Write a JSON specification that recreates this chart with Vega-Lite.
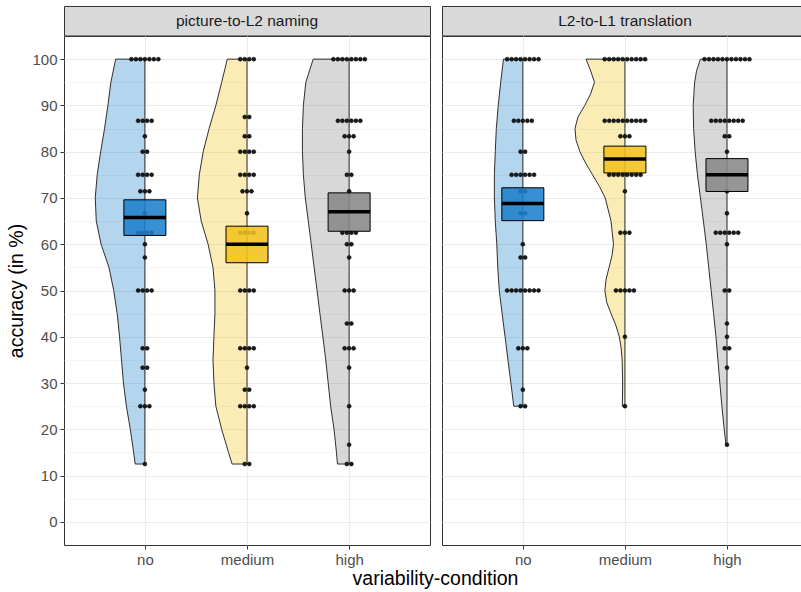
{
  "$schema": "https://vega.github.io/schema/vega-lite/v6.json",
  "padding": {"left": 6, "top": 5, "right": 0, "bottom": 3},
  "title": {"text": "variability-condition", "orient": "bottom", "anchor": "middle", "fontSize": 19.5, "fontWeight": "normal", "font": "Liberation Sans", "color": "#000000", "offset": 2, "dx": 31},
  "datasets": {
    "strips": [
      {"task": "N", "label": "picture-to-L2 naming"},
      {"task": "T", "label": "L2-to-L1 translation"}
    ],
    "boxes": [
      {"task": "N", "cond": "no", "q1": 61.9, "med": 65.8, "q3": 69.6},
      {"task": "N", "cond": "medium", "q1": 56.0, "med": 60.0, "q3": 63.9},
      {"task": "N", "cond": "high", "q1": 62.8, "med": 67.0, "q3": 71.1},
      {"task": "T", "cond": "no", "q1": 65.1, "med": 68.8, "q3": 72.2},
      {"task": "T", "cond": "medium", "q1": 75.4, "med": 78.4, "q3": 81.2},
      {"task": "T", "cond": "high", "q1": 71.4, "med": 75.0, "q3": 78.5}
    ],
    "violins": [
      {"task": "N", "cond": "no", "acc": 12.5, "w": 0.095},
      {"task": "N", "cond": "no", "acc": 15, "w": 0.110},
      {"task": "N", "cond": "no", "acc": 20, "w": 0.143},
      {"task": "N", "cond": "no", "acc": 25, "w": 0.181},
      {"task": "N", "cond": "no", "acc": 30, "w": 0.210},
      {"task": "N", "cond": "no", "acc": 35, "w": 0.229},
      {"task": "N", "cond": "no", "acc": 40, "w": 0.248},
      {"task": "N", "cond": "no", "acc": 45, "w": 0.271},
      {"task": "N", "cond": "no", "acc": 50, "w": 0.305},
      {"task": "N", "cond": "no", "acc": 55, "w": 0.352},
      {"task": "N", "cond": "no", "acc": 60, "w": 0.429},
      {"task": "N", "cond": "no", "acc": 65, "w": 0.476},
      {"task": "N", "cond": "no", "acc": 70, "w": 0.486},
      {"task": "N", "cond": "no", "acc": 75, "w": 0.467},
      {"task": "N", "cond": "no", "acc": 80, "w": 0.433},
      {"task": "N", "cond": "no", "acc": 85, "w": 0.395},
      {"task": "N", "cond": "no", "acc": 90, "w": 0.362},
      {"task": "N", "cond": "no", "acc": 95, "w": 0.333},
      {"task": "N", "cond": "no", "acc": 100, "w": 0.286},
      {"task": "N", "cond": "medium", "acc": 12.5, "w": 0.146},
      {"task": "N", "cond": "medium", "acc": 15, "w": 0.181},
      {"task": "N", "cond": "medium", "acc": 20, "w": 0.248},
      {"task": "N", "cond": "medium", "acc": 25, "w": 0.305},
      {"task": "N", "cond": "medium", "acc": 30, "w": 0.324},
      {"task": "N", "cond": "medium", "acc": 35, "w": 0.333},
      {"task": "N", "cond": "medium", "acc": 40, "w": 0.324},
      {"task": "N", "cond": "medium", "acc": 45, "w": 0.314},
      {"task": "N", "cond": "medium", "acc": 50, "w": 0.314},
      {"task": "N", "cond": "medium", "acc": 55, "w": 0.333},
      {"task": "N", "cond": "medium", "acc": 60, "w": 0.381},
      {"task": "N", "cond": "medium", "acc": 65, "w": 0.448},
      {"task": "N", "cond": "medium", "acc": 70, "w": 0.486},
      {"task": "N", "cond": "medium", "acc": 75, "w": 0.467},
      {"task": "N", "cond": "medium", "acc": 80, "w": 0.429},
      {"task": "N", "cond": "medium", "acc": 85, "w": 0.371},
      {"task": "N", "cond": "medium", "acc": 90, "w": 0.305},
      {"task": "N", "cond": "medium", "acc": 95, "w": 0.248},
      {"task": "N", "cond": "medium", "acc": 100, "w": 0.193},
      {"task": "N", "cond": "high", "acc": 12.5, "w": 0.114},
      {"task": "N", "cond": "high", "acc": 15, "w": 0.124},
      {"task": "N", "cond": "high", "acc": 20, "w": 0.148},
      {"task": "N", "cond": "high", "acc": 25, "w": 0.181},
      {"task": "N", "cond": "high", "acc": 30, "w": 0.205},
      {"task": "N", "cond": "high", "acc": 35, "w": 0.229},
      {"task": "N", "cond": "high", "acc": 40, "w": 0.257},
      {"task": "N", "cond": "high", "acc": 45, "w": 0.286},
      {"task": "N", "cond": "high", "acc": 50, "w": 0.314},
      {"task": "N", "cond": "high", "acc": 55, "w": 0.343},
      {"task": "N", "cond": "high", "acc": 60, "w": 0.371},
      {"task": "N", "cond": "high", "acc": 65, "w": 0.400},
      {"task": "N", "cond": "high", "acc": 70, "w": 0.429},
      {"task": "N", "cond": "high", "acc": 75, "w": 0.448},
      {"task": "N", "cond": "high", "acc": 80, "w": 0.457},
      {"task": "N", "cond": "high", "acc": 85, "w": 0.457},
      {"task": "N", "cond": "high", "acc": 90, "w": 0.448},
      {"task": "N", "cond": "high", "acc": 95, "w": 0.424},
      {"task": "N", "cond": "high", "acc": 100, "w": 0.352},
      {"task": "T", "cond": "no", "acc": 25, "w": 0.089},
      {"task": "T", "cond": "no", "acc": 30, "w": 0.117},
      {"task": "T", "cond": "no", "acc": 35, "w": 0.146},
      {"task": "T", "cond": "no", "acc": 40, "w": 0.174},
      {"task": "T", "cond": "no", "acc": 45, "w": 0.203},
      {"task": "T", "cond": "no", "acc": 50, "w": 0.231},
      {"task": "T", "cond": "no", "acc": 55, "w": 0.246},
      {"task": "T", "cond": "no", "acc": 60, "w": 0.255},
      {"task": "T", "cond": "no", "acc": 65, "w": 0.270},
      {"task": "T", "cond": "no", "acc": 70, "w": 0.279},
      {"task": "T", "cond": "no", "acc": 75, "w": 0.279},
      {"task": "T", "cond": "no", "acc": 80, "w": 0.270},
      {"task": "T", "cond": "no", "acc": 85, "w": 0.260},
      {"task": "T", "cond": "no", "acc": 90, "w": 0.241},
      {"task": "T", "cond": "no", "acc": 95, "w": 0.217},
      {"task": "T", "cond": "no", "acc": 100, "w": 0.190},
      {"task": "T", "cond": "medium", "acc": 25, "w": 0.025},
      {"task": "T", "cond": "medium", "acc": 30, "w": 0.022},
      {"task": "T", "cond": "medium", "acc": 35, "w": 0.027},
      {"task": "T", "cond": "medium", "acc": 37.5, "w": 0.036},
      {"task": "T", "cond": "medium", "acc": 40, "w": 0.055},
      {"task": "T", "cond": "medium", "acc": 42.5, "w": 0.089},
      {"task": "T", "cond": "medium", "acc": 45, "w": 0.136},
      {"task": "T", "cond": "medium", "acc": 47.5, "w": 0.179},
      {"task": "T", "cond": "medium", "acc": 50, "w": 0.196},
      {"task": "T", "cond": "medium", "acc": 52.5, "w": 0.184},
      {"task": "T", "cond": "medium", "acc": 55, "w": 0.155},
      {"task": "T", "cond": "medium", "acc": 57.5, "w": 0.127},
      {"task": "T", "cond": "medium", "acc": 60, "w": 0.112},
      {"task": "T", "cond": "medium", "acc": 65, "w": 0.136},
      {"task": "T", "cond": "medium", "acc": 70, "w": 0.193},
      {"task": "T", "cond": "medium", "acc": 72.5, "w": 0.250},
      {"task": "T", "cond": "medium", "acc": 75, "w": 0.317},
      {"task": "T", "cond": "medium", "acc": 77.5, "w": 0.384},
      {"task": "T", "cond": "medium", "acc": 80, "w": 0.441},
      {"task": "T", "cond": "medium", "acc": 82.5, "w": 0.479},
      {"task": "T", "cond": "medium", "acc": 85, "w": 0.489},
      {"task": "T", "cond": "medium", "acc": 87.5, "w": 0.460},
      {"task": "T", "cond": "medium", "acc": 90, "w": 0.393},
      {"task": "T", "cond": "medium", "acc": 92.5, "w": 0.336},
      {"task": "T", "cond": "medium", "acc": 95, "w": 0.298},
      {"task": "T", "cond": "medium", "acc": 97.5, "w": 0.336},
      {"task": "T", "cond": "medium", "acc": 100, "w": 0.381},
      {"task": "T", "cond": "high", "acc": 16.67, "w": 0.010},
      {"task": "T", "cond": "high", "acc": 20, "w": 0.027},
      {"task": "T", "cond": "high", "acc": 25, "w": 0.050},
      {"task": "T", "cond": "high", "acc": 30, "w": 0.070},
      {"task": "T", "cond": "high", "acc": 35, "w": 0.089},
      {"task": "T", "cond": "high", "acc": 40, "w": 0.108},
      {"task": "T", "cond": "high", "acc": 45, "w": 0.131},
      {"task": "T", "cond": "high", "acc": 50, "w": 0.155},
      {"task": "T", "cond": "high", "acc": 55, "w": 0.179},
      {"task": "T", "cond": "high", "acc": 60, "w": 0.203},
      {"task": "T", "cond": "high", "acc": 65, "w": 0.231},
      {"task": "T", "cond": "high", "acc": 70, "w": 0.260},
      {"task": "T", "cond": "high", "acc": 75, "w": 0.289},
      {"task": "T", "cond": "high", "acc": 80, "w": 0.312},
      {"task": "T", "cond": "high", "acc": 85, "w": 0.327},
      {"task": "T", "cond": "high", "acc": 90, "w": 0.331},
      {"task": "T", "cond": "high", "acc": 95, "w": 0.317},
      {"task": "T", "cond": "high", "acc": 97.5, "w": 0.298},
      {"task": "T", "cond": "high", "acc": 100, "w": 0.260}
    ],
    "dots": [
      {"task":"N","cond":"no","acc":100},{"task":"N","cond":"no","acc":100},{"task":"N","cond":"no","acc":100},{"task":"N","cond":"no","acc":100},{"task":"N","cond":"no","acc":100},{"task":"N","cond":"no","acc":100},{"task":"N","cond":"no","acc":100},
      {"task":"N","cond":"no","acc":86.67},{"task":"N","cond":"no","acc":86.67},{"task":"N","cond":"no","acc":86.67},{"task":"N","cond":"no","acc":86.67},
      {"task":"N","cond":"no","acc":83.33},
      {"task":"N","cond":"no","acc":80},{"task":"N","cond":"no","acc":80},
      {"task":"N","cond":"no","acc":75},{"task":"N","cond":"no","acc":75},{"task":"N","cond":"no","acc":75},{"task":"N","cond":"no","acc":75},
      {"task":"N","cond":"no","acc":71.43},{"task":"N","cond":"no","acc":71.43},{"task":"N","cond":"no","acc":71.43},
      {"task":"N","cond":"no","acc":66.67},
      {"task":"N","cond":"no","acc":62.5},{"task":"N","cond":"no","acc":62.5},{"task":"N","cond":"no","acc":62.5},{"task":"N","cond":"no","acc":62.5},
      {"task":"N","cond":"no","acc":60},
      {"task":"N","cond":"no","acc":57.14},
      {"task":"N","cond":"no","acc":50},{"task":"N","cond":"no","acc":50},{"task":"N","cond":"no","acc":50},{"task":"N","cond":"no","acc":50},
      {"task":"N","cond":"no","acc":37.5},{"task":"N","cond":"no","acc":37.5},
      {"task":"N","cond":"no","acc":33.33},{"task":"N","cond":"no","acc":33.33},
      {"task":"N","cond":"no","acc":28.57},
      {"task":"N","cond":"no","acc":25},{"task":"N","cond":"no","acc":25},{"task":"N","cond":"no","acc":25},
      {"task":"N","cond":"no","acc":12.5},
      {"task":"N","cond":"medium","acc":100},{"task":"N","cond":"medium","acc":100},{"task":"N","cond":"medium","acc":100},{"task":"N","cond":"medium","acc":100},
      {"task":"N","cond":"medium","acc":87.5},{"task":"N","cond":"medium","acc":87.5},
      {"task":"N","cond":"medium","acc":83.33},{"task":"N","cond":"medium","acc":83.33},
      {"task":"N","cond":"medium","acc":80},{"task":"N","cond":"medium","acc":80},{"task":"N","cond":"medium","acc":80},{"task":"N","cond":"medium","acc":80},
      {"task":"N","cond":"medium","acc":75},{"task":"N","cond":"medium","acc":75},{"task":"N","cond":"medium","acc":75},{"task":"N","cond":"medium","acc":75},
      {"task":"N","cond":"medium","acc":71.43},{"task":"N","cond":"medium","acc":71.43},{"task":"N","cond":"medium","acc":71.43},
      {"task":"N","cond":"medium","acc":66.67},
      {"task":"N","cond":"medium","acc":62.5},{"task":"N","cond":"medium","acc":62.5},{"task":"N","cond":"medium","acc":62.5},{"task":"N","cond":"medium","acc":62.5},
      {"task":"N","cond":"medium","acc":50},{"task":"N","cond":"medium","acc":50},{"task":"N","cond":"medium","acc":50},{"task":"N","cond":"medium","acc":50},
      {"task":"N","cond":"medium","acc":37.5},{"task":"N","cond":"medium","acc":37.5},{"task":"N","cond":"medium","acc":37.5},{"task":"N","cond":"medium","acc":37.5},
      {"task":"N","cond":"medium","acc":33.33},
      {"task":"N","cond":"medium","acc":28.57},{"task":"N","cond":"medium","acc":28.57},
      {"task":"N","cond":"medium","acc":25},{"task":"N","cond":"medium","acc":25},{"task":"N","cond":"medium","acc":25},{"task":"N","cond":"medium","acc":25},
      {"task":"N","cond":"medium","acc":12.5},{"task":"N","cond":"medium","acc":12.5},
      {"task":"N","cond":"high","acc":100},{"task":"N","cond":"high","acc":100},{"task":"N","cond":"high","acc":100},{"task":"N","cond":"high","acc":100},{"task":"N","cond":"high","acc":100},{"task":"N","cond":"high","acc":100},{"task":"N","cond":"high","acc":100},{"task":"N","cond":"high","acc":100},
      {"task":"N","cond":"high","acc":86.67},{"task":"N","cond":"high","acc":86.67},{"task":"N","cond":"high","acc":86.67},{"task":"N","cond":"high","acc":86.67},{"task":"N","cond":"high","acc":86.67},{"task":"N","cond":"high","acc":86.67},
      {"task":"N","cond":"high","acc":83.33},{"task":"N","cond":"high","acc":83.33},{"task":"N","cond":"high","acc":83.33},
      {"task":"N","cond":"high","acc":80},
      {"task":"N","cond":"high","acc":75},{"task":"N","cond":"high","acc":75},
      {"task":"N","cond":"high","acc":71.43},
      {"task":"N","cond":"high","acc":62.5},{"task":"N","cond":"high","acc":62.5},{"task":"N","cond":"high","acc":62.5},{"task":"N","cond":"high","acc":62.5},
      {"task":"N","cond":"high","acc":60},{"task":"N","cond":"high","acc":60},
      {"task":"N","cond":"high","acc":57.14},
      {"task":"N","cond":"high","acc":50},{"task":"N","cond":"high","acc":50},{"task":"N","cond":"high","acc":50},
      {"task":"N","cond":"high","acc":42.86},{"task":"N","cond":"high","acc":42.86},
      {"task":"N","cond":"high","acc":37.5},{"task":"N","cond":"high","acc":37.5},{"task":"N","cond":"high","acc":37.5},
      {"task":"N","cond":"high","acc":33.33},
      {"task":"N","cond":"high","acc":25},
      {"task":"N","cond":"high","acc":16.67},
      {"task":"N","cond":"high","acc":12.5},{"task":"N","cond":"high","acc":12.5},
      {"task":"T","cond":"no","acc":100},{"task":"T","cond":"no","acc":100},{"task":"T","cond":"no","acc":100},{"task":"T","cond":"no","acc":100},{"task":"T","cond":"no","acc":100},{"task":"T","cond":"no","acc":100},{"task":"T","cond":"no","acc":100},{"task":"T","cond":"no","acc":100},
      {"task":"T","cond":"no","acc":86.67},{"task":"T","cond":"no","acc":86.67},{"task":"T","cond":"no","acc":86.67},{"task":"T","cond":"no","acc":86.67},{"task":"T","cond":"no","acc":86.67},
      {"task":"T","cond":"no","acc":80},{"task":"T","cond":"no","acc":80},
      {"task":"T","cond":"no","acc":75},{"task":"T","cond":"no","acc":75},{"task":"T","cond":"no","acc":75},{"task":"T","cond":"no","acc":75},{"task":"T","cond":"no","acc":75},{"task":"T","cond":"no","acc":75},
      {"task":"T","cond":"no","acc":71.43},{"task":"T","cond":"no","acc":71.43},
      {"task":"T","cond":"no","acc":66.67},{"task":"T","cond":"no","acc":66.67},
      {"task":"T","cond":"no","acc":60},
      {"task":"T","cond":"no","acc":57.14},{"task":"T","cond":"no","acc":57.14},
      {"task":"T","cond":"no","acc":50},{"task":"T","cond":"no","acc":50},{"task":"T","cond":"no","acc":50},{"task":"T","cond":"no","acc":50},{"task":"T","cond":"no","acc":50},{"task":"T","cond":"no","acc":50},{"task":"T","cond":"no","acc":50},{"task":"T","cond":"no","acc":50},
      {"task":"T","cond":"no","acc":37.5},{"task":"T","cond":"no","acc":37.5},{"task":"T","cond":"no","acc":37.5},
      {"task":"T","cond":"no","acc":28.57},
      {"task":"T","cond":"no","acc":25},{"task":"T","cond":"no","acc":25},
      {"task":"T","cond":"medium","acc":100},{"task":"T","cond":"medium","acc":100},{"task":"T","cond":"medium","acc":100},{"task":"T","cond":"medium","acc":100},{"task":"T","cond":"medium","acc":100},{"task":"T","cond":"medium","acc":100},{"task":"T","cond":"medium","acc":100},{"task":"T","cond":"medium","acc":100},{"task":"T","cond":"medium","acc":100},{"task":"T","cond":"medium","acc":100},
      {"task":"T","cond":"medium","acc":86.67},{"task":"T","cond":"medium","acc":86.67},{"task":"T","cond":"medium","acc":86.67},{"task":"T","cond":"medium","acc":86.67},{"task":"T","cond":"medium","acc":86.67},{"task":"T","cond":"medium","acc":86.67},{"task":"T","cond":"medium","acc":86.67},{"task":"T","cond":"medium","acc":86.67},{"task":"T","cond":"medium","acc":86.67},{"task":"T","cond":"medium","acc":86.67},
      {"task":"T","cond":"medium","acc":83.33},{"task":"T","cond":"medium","acc":83.33},{"task":"T","cond":"medium","acc":83.33},
      {"task":"T","cond":"medium","acc":75},{"task":"T","cond":"medium","acc":75},{"task":"T","cond":"medium","acc":75},{"task":"T","cond":"medium","acc":75},{"task":"T","cond":"medium","acc":75},{"task":"T","cond":"medium","acc":75},{"task":"T","cond":"medium","acc":75},{"task":"T","cond":"medium","acc":75},
      {"task":"T","cond":"medium","acc":71.43},
      {"task":"T","cond":"medium","acc":62.5},{"task":"T","cond":"medium","acc":62.5},{"task":"T","cond":"medium","acc":62.5},
      {"task":"T","cond":"medium","acc":50},{"task":"T","cond":"medium","acc":50},{"task":"T","cond":"medium","acc":50},{"task":"T","cond":"medium","acc":50},{"task":"T","cond":"medium","acc":50},
      {"task":"T","cond":"medium","acc":40},
      {"task":"T","cond":"medium","acc":25},
      {"task":"T","cond":"high","acc":100},{"task":"T","cond":"high","acc":100},{"task":"T","cond":"high","acc":100},{"task":"T","cond":"high","acc":100},{"task":"T","cond":"high","acc":100},{"task":"T","cond":"high","acc":100},{"task":"T","cond":"high","acc":100},{"task":"T","cond":"high","acc":100},{"task":"T","cond":"high","acc":100},{"task":"T","cond":"high","acc":100},{"task":"T","cond":"high","acc":100},
      {"task":"T","cond":"high","acc":86.67},{"task":"T","cond":"high","acc":86.67},{"task":"T","cond":"high","acc":86.67},{"task":"T","cond":"high","acc":86.67},{"task":"T","cond":"high","acc":86.67},{"task":"T","cond":"high","acc":86.67},{"task":"T","cond":"high","acc":86.67},{"task":"T","cond":"high","acc":86.67},
      {"task":"T","cond":"high","acc":83.33},{"task":"T","cond":"high","acc":83.33},
      {"task":"T","cond":"high","acc":80},
      {"task":"T","cond":"high","acc":71.43},
      {"task":"T","cond":"high","acc":66.67},
      {"task":"T","cond":"high","acc":62.5},{"task":"T","cond":"high","acc":62.5},{"task":"T","cond":"high","acc":62.5},{"task":"T","cond":"high","acc":62.5},{"task":"T","cond":"high","acc":62.5},{"task":"T","cond":"high","acc":62.5},
      {"task":"T","cond":"high","acc":60},
      {"task":"T","cond":"high","acc":50},{"task":"T","cond":"high","acc":50},
      {"task":"T","cond":"high","acc":42.86},
      {"task":"T","cond":"high","acc":40},
      {"task":"T","cond":"high","acc":37.5},{"task":"T","cond":"high","acc":37.5},
      {"task":"T","cond":"high","acc":33.33},
      {"task":"T","cond":"high","acc":16.67}
    ]
  },
  "spacing": 10,
  "hconcat": [
    {
      "spacing": 0,
      "bounds": "flush",
      "vconcat": [
        {
          "width": 366, "height": 29.5,
          "data": {"name": "strips"},
          "transform": [{"filter": "datum.task === 'N'"}],
          "view": {"fill": "#d9d9d9", "stroke": "#333333", "strokeWidth": 1},
          "mark": {"type": "text", "fontSize": 15.5, "color": "#1a1a1a", "font": "Liberation Sans"},
          "encoding": {"text": {"field": "label", "type": "nominal"}}
        },
        {
          "width": 366, "height": 509,
          "encoding": {
            "y": {"type": "quantitative", "scale": {"domain": [-5, 105], "nice": false, "zero": false},
              "axis": {"title": "accuracy (in %)", "values": [0,5,10,15,20,25,30,35,40,45,50,55,60,65,70,75,80,85,90,95,100],
                "labelExpr": "datum.value % 10 === 0 ? datum.label : ''", "labelOverlap": false, "labelPadding": 3, "titlePadding": 5,
                "tickColor": {"condition": {"test": "datum.value % 10 === 0", "value": "#333333"}, "value": "transparent"},
                "gridWidth": {"condition": {"test": "datum.value % 10 === 0", "value": 1.1}, "value": 0.55}}},
            "x": {"type": "quantitative", "scale": {"domain": [0.257, 3.743], "nice": false, "zero": false},
              "axis": {"title": null, "values": [1, 2, 3], "labelExpr": "datum.value === 1 ? 'no' : datum.value === 2 ? 'medium' : 'high'", "labelFlush": false, "gridWidth": 1.1, "labelPadding": 3}}
          },
          "layer": [
            {
              "data": {"name": "violins"},
              "transform": [
                {"filter": "datum.task === 'N'"},
                {"calculate": "indexof(['no','medium','high'], datum.cond) + 1", "as": "k"},
                {"calculate": "datum.k - datum.w", "as": "lo"}
              ],
              "mark": {"type": "area", "orient": "horizontal", "fillOpacity": 0.33, "stroke": "#1a1a1a", "strokeWidth": 0.9},
              "encoding": {
                "y": {"field": "acc"},
                "x": {"field": "lo", "stack": null},
                "x2": {"field": "k"},
                "color": {"field": "cond", "type": "nominal", "scale": {"domain": ["no", "medium", "high"], "range": ["#1c80cc", "#f2c21c", "#888888"]}, "legend": null}
              }
            },
            {
              "data": {"name": "dots"},
              "transform": [
                {"filter": "datum.task === 'N'"},
                {"calculate": "indexof(['no','medium','high'], datum.cond) + 1", "as": "k"},
                {"window": [{"op": "row_number", "as": "r"}, {"op": "count", "as": "n"}], "groupby": ["cond", "acc"], "frame": [null, null]},
                {"calculate": "datum.k + (datum.r - (datum.n + 1) / 2) * 0.044", "as": "xd"}
              ],
              "mark": {"type": "circle", "size": 16, "color": "#1a1a1a", "opacity": 1, "stroke": "#000000", "strokeWidth": 0.5},
              "encoding": {
                "x": {"field": "xd"},
                "y": {"field": "acc"}
              }
            },
            {
              "data": {"name": "boxes"},
              "transform": [
                {"filter": "datum.task === 'N'"},
                {"calculate": "indexof(['no','medium','high'], datum.cond) + 1", "as": "k"}
              ],
              "mark": {"type": "bar", "orient": "vertical", "width": 42, "fillOpacity": 0.88, "stroke": "#000000", "strokeWidth": 1},
              "encoding": {
                "x": {"field": "k"},
                "y": {"field": "q1"},
                "y2": {"field": "q3"},
                "color": {"field": "cond", "type": "nominal", "legend": null}
              }
            },
            {
              "data": {"name": "boxes"},
              "transform": [
                {"filter": "datum.task === 'N'"},
                {"calculate": "indexof(['no','medium','high'], datum.cond) + 1", "as": "k"}
              ],
              "mark": {"type": "tick", "orient": "horizontal", "size": 42, "thickness": 3.5, "color": "#000000", "opacity": 1},
              "encoding": {
                "x": {"field": "k"},
                "y": {"field": "med"}
              }
            }
          ]
        }
      ]
    },
    {
      "spacing": 0,
      "bounds": "flush",
      "vconcat": [
        {
          "width": 360, "height": 29.5,
          "data": {"name": "strips"},
          "transform": [{"filter": "datum.task === 'T'"}],
          "view": {"fill": "#d9d9d9", "stroke": "#333333", "strokeWidth": 1},
          "mark": {"type": "text", "fontSize": 15.5, "color": "#1a1a1a", "font": "Liberation Sans", "dx": 3},
          "encoding": {"text": {"field": "label", "type": "nominal"}}
        },
        {
          "width": 360, "height": 509,
          "encoding": {
            "y": {"type": "quantitative", "scale": {"domain": [-5, 105], "nice": false, "zero": false},
              "axis": {"title": null, "labels": false, "ticks": false, "values": [0,5,10,15,20,25,30,35,40,45,50,55,60,65,70,75,80,85,90,95,100],
                "gridWidth": {"condition": {"test": "datum.value % 10 === 0", "value": 1.1}, "value": 0.55}}},
            "x": {"type": "quantitative", "scale": {"domain": [0.257, 3.686], "nice": false, "zero": false},
              "axis": {"title": null, "values": [1, 2, 3], "labelExpr": "datum.value === 1 ? 'no' : datum.value === 2 ? 'medium' : 'high'", "labelFlush": false, "gridWidth": 1.1, "labelPadding": 3}}
          },
          "layer": [
            {
              "data": {"name": "violins"},
              "transform": [
                {"filter": "datum.task === 'T'"},
                {"calculate": "indexof(['no','medium','high'], datum.cond) + 1", "as": "k"},
                {"calculate": "datum.k - datum.w", "as": "lo"}
              ],
              "mark": {"type": "area", "orient": "horizontal", "fillOpacity": 0.33, "stroke": "#1a1a1a", "strokeWidth": 0.9},
              "encoding": {
                "y": {"field": "acc"},
                "x": {"field": "lo", "stack": null},
                "x2": {"field": "k"},
                "color": {"field": "cond", "type": "nominal", "scale": {"domain": ["no", "medium", "high"], "range": ["#1c80cc", "#f2c21c", "#888888"]}, "legend": null}
              }
            },
            {
              "data": {"name": "dots"},
              "transform": [
                {"filter": "datum.task === 'T'"},
                {"calculate": "indexof(['no','medium','high'], datum.cond) + 1", "as": "k"},
                {"window": [{"op": "row_number", "as": "r"}, {"op": "count", "as": "n"}], "groupby": ["cond", "acc"], "frame": [null, null]},
                {"calculate": "datum.k + (datum.r - (datum.n + 1) / 2) * 0.044", "as": "xd"}
              ],
              "mark": {"type": "circle", "size": 16, "color": "#1a1a1a", "opacity": 1, "stroke": "#000000", "strokeWidth": 0.5},
              "encoding": {
                "x": {"field": "xd"},
                "y": {"field": "acc"}
              }
            },
            {
              "data": {"name": "boxes"},
              "transform": [
                {"filter": "datum.task === 'T'"},
                {"calculate": "indexof(['no','medium','high'], datum.cond) + 1", "as": "k"}
              ],
              "mark": {"type": "bar", "orient": "vertical", "width": 42, "fillOpacity": 0.88, "stroke": "#000000", "strokeWidth": 1},
              "encoding": {
                "x": {"field": "k"},
                "y": {"field": "q1"},
                "y2": {"field": "q3"},
                "color": {"field": "cond", "type": "nominal", "legend": null}
              }
            },
            {
              "data": {"name": "boxes"},
              "transform": [
                {"filter": "datum.task === 'T'"},
                {"calculate": "indexof(['no','medium','high'], datum.cond) + 1", "as": "k"}
              ],
              "mark": {"type": "tick", "orient": "horizontal", "size": 42, "thickness": 3.5, "color": "#000000", "opacity": 1},
              "encoding": {
                "x": {"field": "k"},
                "y": {"field": "med"}
              }
            }
          ]
        }
      ]
    }
  ],
  "config": {
    "font": "Liberation Sans",
    "view": {"stroke": "#333333", "strokeWidth": 1},
    "axis": {
      "labelFont": "Liberation Sans", "labelFontSize": 15, "labelColor": "#4d4d4d",
      "tickColor": "#333333", "tickSize": 4, "tickWidth": 1, "domain": false,
      "grid": true, "gridColor": "#ebebeb",
      "titleFont": "Liberation Sans", "titleFontSize": 19.5, "titleFontWeight": "normal", "titleColor": "#000000"
    }
  }
}
